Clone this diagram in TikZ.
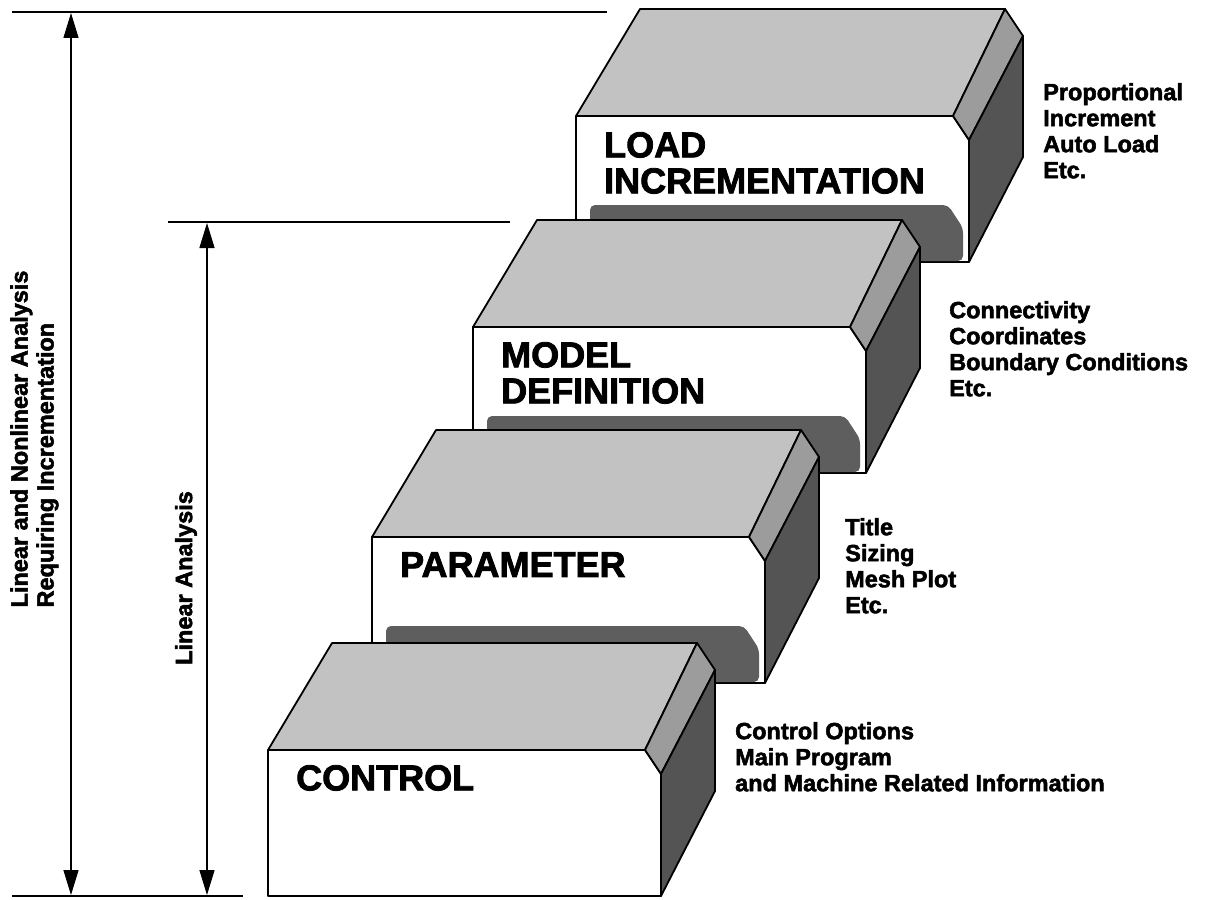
\documentclass[tikz,border=0pt]{standalone}
\usepackage{fontspec}
\setmainfont{Liberation Sans}
\newfontfamily\heavyfont{Liberation Sans}[FakeBold=2.2]
\usetikzlibrary{arrows.meta}
\definecolor{topgray}{gray}{0.76}
\definecolor{bevelgray}{gray}{0.61}
\definecolor{sidegray}{gray}{0.33}
\definecolor{shadowgray}{gray}{0.37}
\newcommand\stairblock[2]{%
  \path[edge,fill=white] (#1,#2) -- (#1+377,#2) -- (#1+393,#2+24) -- (#1+393,#2+146) -- (#1,#2+146) -- cycle;
  \path[edge,fill=topgray] (#1,#2) -- (#1+64,#2-107) -- (#1+429,#2-107) -- (#1+377,#2) -- cycle;
  \path[edge,fill=bevelgray] (#1+377,#2) -- (#1+429,#2-107) -- (#1+447,#2-80) -- (#1+393,#2+24) -- cycle;
  \path[edge,fill=sidegray] (#1+393,#2+24) -- (#1+447,#2-80) -- (#1+447,#2+41) -- (#1+393,#2+146) -- cycle;
}
\newcommand\blockshadow[2]{%
  \fill[shadowgray,rounded corners=5pt] (#1+14,#2+89) -- (#1+372,#2+89) -- (#1+387,#2+112) -- (#1+387,#2+145) -- (#1+14,#2+145) -- cycle;
}
\begin{document}
\begin{tikzpicture}[x=1pt,y=-1pt,
  edge/.style={draw=black,line width=1.8pt,line join=round},
  biglabel/.style={anchor=north west,font=\heavyfont\fontsize{36}{36}\selectfont\bfseries,align=left,inner sep=0pt},
  sidelabel/.style={anchor=north west,font=\heavyfont\fontsize{23.5}{26}\selectfont\bfseries,align=left,inner sep=0pt},
  rotlabel/.style={rotate=90,anchor=center,font=\heavyfont\fontsize{23.5}{26}\selectfont\bfseries,align=left,inner sep=0pt},
  dimarrow/.style={line width=1.4pt,{Triangle[length=25pt,width=15pt]}-{Triangle[length=25pt,width=15pt]}},
  refline/.style={line width=1.4pt}]
\useasboundingbox (0,0) rectangle (1209,899);
\fill[white] (0,0) rectangle (1209,899);
% blocks, back to front
\stairblock{576}{116}
\blockshadow{576}{116}
\stairblock{473}{327}
\blockshadow{473}{327}
\stairblock{372}{537}
\blockshadow{372}{537}
\stairblock{268}{750}
% block labels
\node[biglabel] (load) at (604,132) {LOAD\\INCREMENTATION};
\node[biglabel] (model) at (501,342) {MODEL\\DEFINITION};
\node[biglabel] (param) at (400,552) {PARAMETER};
\node[biglabel] (ctrl) at (296,765) {CONTROL};
% side labels
\node[sidelabel] (loadnote) at (1043,83) {Proportional\\Increment\\Auto Load\\Etc.};
\node[sidelabel] (modelnote) at (949,301) {Connectivity\\Coordinates\\Boundary Conditions\\Etc.};
\node[sidelabel] (paramnote) at (845,518) {Title\\Sizing\\Mesh Plot\\Etc.};
\node[sidelabel] (ctrlnote) at (735,722) {Control Options\\Main Program\\and Machine Related Information};
% reference lines
\coordinate (t1) at (12,12);
\coordinate (t2) at (607,12);
\coordinate (m1) at (168,222);
\coordinate (m2) at (510,222);
\coordinate (b1) at (12,896);
\coordinate (b2) at (243,896);
\draw[refline] (t1) -- (t2);
\draw[refline] (m1) -- (m2);
\draw[refline] (b1) -- (b2);
\coordinate (a1t) at (71,13);
\coordinate (a1b) at (71,895);
\coordinate (a2t) at (207,223);
\coordinate (a2b) at (207,895);
\draw[dimarrow] (a1t) -- (a1b);
\draw[dimarrow] (a2t) -- (a2b);
\node[rotlabel] (outer) at (34.5,439) {Linear and Nonlinear Analysis\\Requiring Incrementation};
\node[rotlabel] (inner) at (186,578) {Linear Analysis};
\end{tikzpicture}
\end{document}
